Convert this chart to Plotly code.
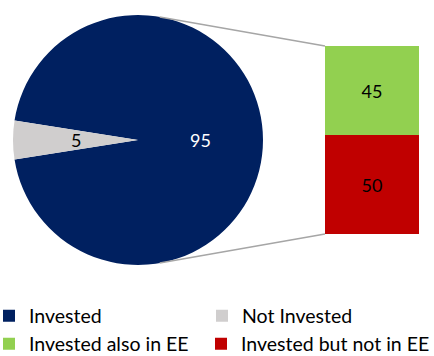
import math
import plotly.graph_objects as go

W, H = 434, 356

# ---- data ----
pie_labels = ["Invested", "Not Invested"]
pie_values = [95, 5]
bar_labels = ["Invested also in EE", "Invested but not in EE"]
bar_values = [45, 50]

navy = "#002060"
grey = "#D0CECE"
green = "#92D050"
red = "#C00000"
FONT = "Lato"
FS = 18
LFS = 19.5

# ---- geometry (pixels) ----
pie_cx, pie_cy, pie_r = 138, 140, 125
bar_x0, bar_x1, bar_top, bar_bot = 325, 419, 46, 234
ROT = 279

def px(x):
    return x / W

def py(y):
    return 1 - y / H

fig = go.Figure()

fig.add_trace(go.Pie(
    labels=pie_labels, values=pie_values, sort=False,
    direction="clockwise", rotation=ROT,
    marker=dict(colors=[navy, grey], line=dict(width=0)),
    textinfo="none",
    domain=dict(x=[px(pie_cx - pie_r), px(pie_cx + pie_r)],
                y=[py(pie_cy + pie_r), py(pie_cy - pie_r)]),
    hoverinfo="skip", legend="legend",
))

# value labels of the pie at half radius on each slice's mid-angle
annotations = []
total = sum(pie_values)
start = ROT
for v, col in zip(pie_values, ["white", "black"]):
    span = 360 * v / total
    mid = math.radians(start + span / 2)
    lx = pie_cx + 0.5 * pie_r * math.sin(mid)
    ly = pie_cy - 0.5 * pie_r * math.cos(mid)
    annotations.append(dict(x=px(lx), y=py(ly), xref="paper", yref="paper", text=str(v),
                            xanchor="center", yanchor="middle",
                            showarrow=False, font=dict(color=col, size=FS, family=FONT)))
    start += span

# stacked bar: bottom red (50), top green (45)
fig.add_trace(go.Bar(
    x=[0], y=[bar_values[1]], name=bar_labels[1], marker=dict(color=red, line=dict(width=0)),
    text=[bar_values[1]], textposition="inside", insidetextanchor="middle",
    textfont=dict(color="black", size=FS, family=FONT),
    xaxis="x", yaxis="y", legend="legend3", hoverinfo="skip",
))
fig.add_trace(go.Bar(
    x=[0], y=[bar_values[0]], name=bar_labels[0], marker=dict(color=green, line=dict(width=0)),
    text=[bar_values[0]], textposition="inside", insidetextanchor="middle",
    textfont=dict(color="black", size=FS, family=FONT),
    xaxis="x", yaxis="y", legend="legend2", hoverinfo="skip",
))

# connector lines
ang = math.radians(10)
sx = pie_cx + pie_r * math.sin(ang)
sy_top = pie_cy - pie_r * math.cos(ang)
sy_bot = pie_cy + pie_r * math.cos(ang)
shapes = [
    dict(type="line", xref="paper", yref="paper", x0=px(sx), y0=py(sy_top), x1=px(bar_x0), y1=py(bar_top),
         line=dict(color="#A6A6A6", width=1.5)),
    dict(type="line", xref="paper", yref="paper", x0=px(sx), y0=py(sy_bot), x1=px(bar_x0), y1=py(bar_bot),
         line=dict(color="#A6A6A6", width=1.5)),
]

row1_y, row2_y = 316, 344
col2_x = 212
leg_common = dict(orientation="h", xanchor="left", yanchor="middle",
                  font=dict(size=LFS, family=FONT), bgcolor="rgba(0,0,0,0)", indentation=-11)

fig.update_layout(
    width=W, height=H,
    margin=dict(l=0, r=0, t=0, b=0, autoexpand=False),
    paper_bgcolor="white", plot_bgcolor="white",
    font=dict(family=FONT, size=FS, color="black"),
    barmode="stack", bargap=0,
    xaxis=dict(domain=[px(bar_x0), px(bar_x1)], range=[-0.5, 0.5], visible=False, fixedrange=True),
    yaxis=dict(domain=[py(bar_bot), py(bar_top)], range=[0, sum(bar_values)], visible=False, fixedrange=True),
    shapes=shapes,
    annotations=annotations,
    showlegend=True,
    legend=dict(x=0, y=py(row1_y), entrywidth=179, entrywidthmode="pixels", **leg_common),
    legend2=dict(x=0, y=py(row2_y), **leg_common),
    legend3=dict(x=px(col2_x), y=py(row2_y), **leg_common),
)

fig.write_html("out.html", config={"displayModeBar": False},
               post_script="document.body.style.margin='0';document.body.style.overflow='hidden';")
